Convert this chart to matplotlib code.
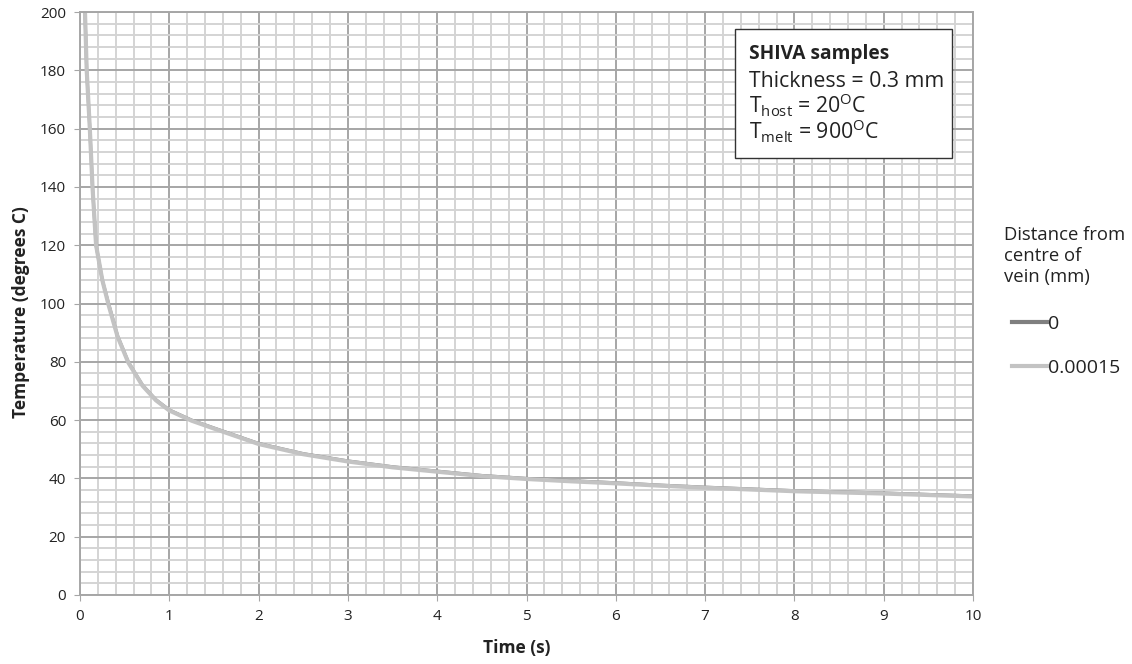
import numpy as np
import matplotlib
matplotlib.use('Agg')
import matplotlib.pyplot as plt
from matplotlib.lines import Line2D

plt.rcParams['font.family'] = ['Open Sans', 'DejaVu Sans']
plt.rcParams['mathtext.fontset'] = 'custom'
plt.rcParams['mathtext.rm'] = 'Open Sans'

# values
time_s = [0.056, 0.075, 0.11, 0.14, 0.18, 0.25, 0.32, 0.42, 0.54, 0.7, 0.85, 1.0,
          1.25, 1.5, 2.0, 2.5, 3.0, 3.5, 4.0, 4.5, 5.0, 5.5, 6.0, 6.5, 7.0,
          7.5, 8.0, 8.5, 9.0, 9.5, 10.0]
temp_0 = [200, 180, 160, 140, 120, 108, 100, 89, 80, 72, 67, 63.5,
          60, 57.3, 52, 48.5, 46, 44, 42.5, 41, 40, 39.2, 38.5, 37.7, 37,
          36.4, 35.8, 35.4, 35, 34.5, 34]
temp_00015 = [200, 180, 160, 140, 120, 108, 99.5, 88.7, 79.8, 71.8, 66.8, 63.3,
              59.8, 57.1, 51.8, 48.3, 45.8, 43.8, 42.3, 40.8, 39.8, 39, 38.3, 37.5, 36.8,
              36.2, 35.6, 35.2, 34.8, 34.3, 33.8]
legend_labels = ['0', '0.00015']

W, H = 1132, 664
fig = plt.figure(figsize=(W / 100, H / 100), dpi=100)
ax = fig.add_axes([80 / W, 1 - 595 / H, (973 - 80) / W, (595 - 12) / H])

ax.set_xlim(0, 10)
ax.set_ylim(0, 200)
ax.set_xticks(np.arange(0, 11, 1))
ax.set_yticks(np.arange(0, 201, 20))
ax.set_xticks(np.arange(0, 10.01, 0.2), minor=True)
ax.set_yticks(np.arange(0, 200.1, 4), minor=True)
ax.grid(True, which='minor', color='#d4d4d4', linewidth=1.4)
ax.grid(True, which='major', color='#a6a6a6', linewidth=1.4)
ax.set_axisbelow(True)
ax.tick_params(which='minor', length=0)
ax.tick_params(which='major', length=4, color='#a6a6a6', labelsize=11, labelcolor='#222222', pad=6)
for s in ax.spines.values():
    s.set_color('#a6a6a6')
    s.set_linewidth(1.4)

ax.plot(time_s, temp_0, color='#7f7f7f', linewidth=2.2, solid_capstyle='butt')
ax.plot(time_s, temp_00015, color='#c3c3c3', linewidth=3.0, solid_capstyle='butt')

ax.set_xlabel('Time (s)', fontsize=12.5, fontweight='bold', color='#222222')
ax.set_ylabel('Temperature (degrees C)', fontsize=12.5, fontweight='bold', color='#222222')
ax.xaxis.set_label_coords((517 - 80) / 893, -(648 - 595) / 583)
ax.yaxis.set_label_coords(-(80 - 21) / 893, (595 - 312) / 583)
ax.xaxis.label.set_va('center')
ax.yaxis.label.set_va('center')

# info box
bx0, by0, bx1, by1 = 735, 29, 952, 158
fig.patches.append(plt.Rectangle((bx0 / W, 1 - by1 / H), (bx1 - bx0) / W, (by1 - by0) / H,
                                 transform=fig.transFigure, facecolor='white',
                                 edgecolor='#333333', linewidth=1.0, zorder=5))
tx = 749 / W
fig.text(tx, 1 - 59 / H, 'SHIVA samples', fontsize=13.8, fontweight='bold',
         color='#222222', va='baseline', zorder=6)
fig.text(tx, 1 - 87 / H, 'Thickness = 0.3 mm', fontsize=15.3, color='#222222',
         va='baseline', zorder=6)
fig.text(tx, 1 - 113 / H, r'T$_{\mathrm{host}}$ = 20$^{\mathrm{O}}$C',
         fontsize=15.3, color='#222222', va='baseline', zorder=6)
fig.text(tx, 1 - 139 / H, r'T$_{\mathrm{melt}}$ = 900$^{\mathrm{O}}$C',
         fontsize=15.3, color='#222222', va='baseline', zorder=6)

# legend on the right
fig.text(1004 / W, 1 - 226 / H, 'Distance from\ncentre of\nvein (mm)', fontsize=13.3,
         color='#222222', va='top', linespacing=1.2)
handles = [Line2D([], [], color='#7f7f7f', linewidth=3),
           Line2D([], [], color='#c3c3c3', linewidth=3)]
fig.legend(handles, legend_labels, loc='upper left',
           bbox_to_anchor=(1006 / W, 1 - 309 / H), frameon=False, fontsize=14,
           handlelength=1.8, handletextpad=0.05, labelspacing=1.35, labelcolor='#222222',
           borderaxespad=0, borderpad=0.3)

fig.savefig('out.png', dpi=100)
